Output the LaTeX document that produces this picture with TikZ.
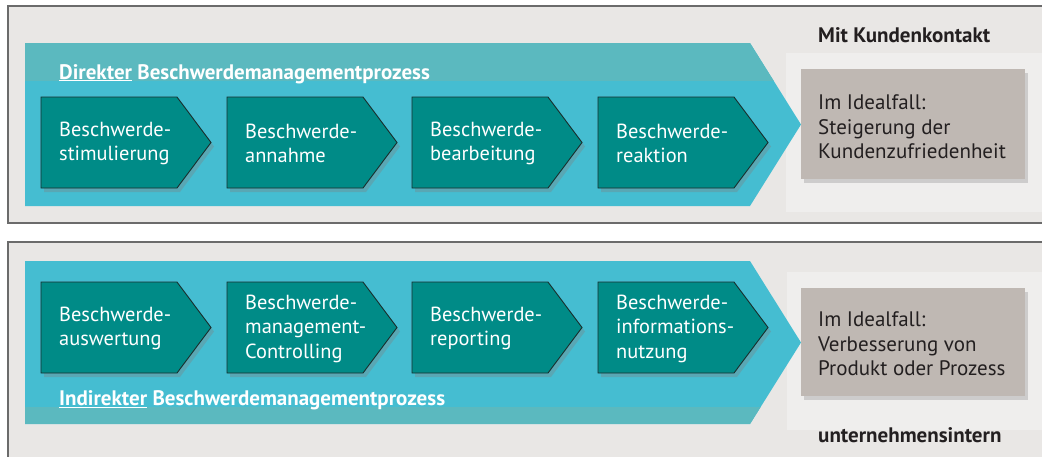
\documentclass[tikz,border=0pt]{standalone}
\usepackage{fontspec}
\setmainfont{PT Sans}
\usetikzlibrary{shadows}
\definecolor{panelfill}{HTML}{E9E7E5}
\definecolor{panelline}{HTML}{6B6B6B}
\definecolor{lightarea}{HTML}{EFEEED}
\definecolor{banddark}{HTML}{5BB9BF}
\definecolor{bandlight}{HTML}{45BDD1}
\definecolor{chevfill}{HTML}{008B87}
\definecolor{chevline}{HTML}{1A2E2D}
\definecolor{greybox}{HTML}{BFB8B3}
\definecolor{darktext}{HTML}{231F20}
\newcommand\chevbox[4]{%
  \fill[chevstyle] (#1,#2) -- ++(136,0) -- ++(34,45.5) -- ++(-34,45.5) -- ++(-136,0) -- cycle;
  \node[chevtext] (#3) at (#1+18,#2+46.5) {#4};
}
\begin{document}
\begin{tikzpicture}[x=1pt,y=-1pt,
  panel/.style={fill=panelfill,draw=panelline,line width=1.2pt},
  chevstyle/.style={fill=chevfill,draw=chevline,line width=0.9pt,
     drop shadow={opacity=0.35,shadow xshift=3pt,shadow yshift=-4pt}},
  chevtext/.style={anchor=west,align=left,inner sep=0pt,text=white,
     font=\fontsize{20.4}{24.5}\selectfont},
  greystyle/.style={fill=greybox,
     drop shadow={opacity=0.3,shadow xshift=3pt,shadow yshift=-4pt}},
  greytext/.style={anchor=west,align=left,inner sep=0pt,text=darktext,
     font=\fontsize{21}{24.5}\selectfont},
  title/.style={anchor=base west,inner sep=0pt,text=white,
     font=\fontsize{21}{24}\selectfont\bfseries},
  label/.style={anchor=base west,inner sep=0pt,text=darktext,
     font=\fontsize{21}{24}\selectfont\bfseries}]
\useasboundingbox (0,0) rectangle (1042,456);
\clip (0,0) rectangle (1042,456);
\fill[white] (0,0) rectangle (1042,456);
% panels
\path[panel] (8,6) rectangle (1060,223);
\path[panel] (8,242) rectangle (1060,480);
\fill[lightarea] (786,53) rectangle (1042,212);
\fill[lightarea] (787,272) rectangle (1042,430);
% big arrow top
\fill[bandlight] (25,43) -- (750,43) -- (801,124.5) -- (750,206) -- (25,206) -- cycle;
\begin{scope}
  \clip (25,43) -- (750,43) -- (801,124.5) -- (750,206) -- (25,206) -- cycle;
  \fill[banddark] (25,43) rectangle (810,81);
\end{scope}
% big arrow bottom
\fill[bandlight] (25,261) -- (750,261) -- (801,342.5) -- (750,424) -- (25,424) -- cycle;
\begin{scope}
  \clip (25,261) -- (750,261) -- (801,342.5) -- (750,424) -- (25,424) -- cycle;
  \fill[banddark] (25,407) rectangle (810,424);
\end{scope}
% titles
\node[title] (t1) at (59,79) {\underline{Direkter} Beschwerdemanagementprozess};
\node[title] (t2) at (59,405) {\underline{Indirekter} Beschwerdemanagementprozess};
% chevrons top
\chevbox{41}{97}{c1}{Beschwerde-\\stimulierung}
\chevbox{227}{97}{c2}{Beschwerde-\\annahme}
\chevbox{412}{97}{c3}{Beschwerde-\\bearbeitung}
\chevbox{598}{97}{c4}{Beschwerde-\\reaktion}
% chevrons bottom
\chevbox{41}{282}{c5}{Beschwerde-\\auswertung}
\chevbox{227}{282}{c6}{Beschwerde-\\management-\\Controlling}
\chevbox{412}{282}{c7}{Beschwerde-\\reporting}
\chevbox{598}{282}{c8}{Beschwerde-\\informations-\\nutzung}
% grey boxes
\fill[greystyle] (801,69) rectangle (1025,179);
\node[greytext] (g1) at (818,127) {Im Idealfall:\\Steigerung der\\Kundenzufriedenheit};
\fill[greystyle] (801,288) rectangle (1025,396);
\node[greytext] (g2) at (818,344) {Im Idealfall:\\Verbesserung von\\Produkt oder Prozess};
% labels
\node[label] (l1) at (818,42) {Mit Kundenkontakt};
\node[label] (l2) at (818,442) {unternehmensintern};
\end{tikzpicture}
\end{document}
